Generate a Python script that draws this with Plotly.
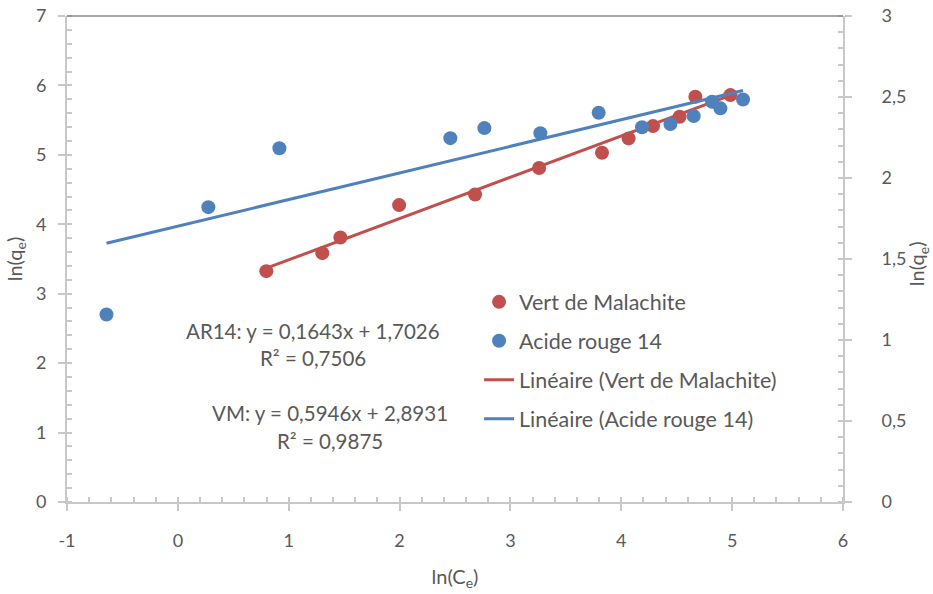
import plotly.graph_objects as go

# Vert de Malachite (left axis)
vm_x = [0.798, 1.303, 1.466, 1.996, 2.681, 3.259, 3.826, 4.066, 4.286, 4.526, 4.668, 4.984]
vm_y = [3.325, 3.584, 3.810, 4.276, 4.430, 4.810, 5.030, 5.237, 5.414, 5.548, 5.837, 5.861]

# Acide rouge 14 (right axis)
ar_x = [-0.644, 0.275, 0.916, 2.458, 2.765, 3.270, 3.796, 4.187, 4.443, 4.653, 4.819, 4.894, 5.098]
ar_y = [1.157, 1.820, 2.184, 2.246, 2.308, 2.277, 2.403, 2.313, 2.333, 2.382, 2.471, 2.430, 2.485]

# Trendline coefficients (slope, intercept)
vm_fit = (0.5946, 2.8931)
ar_fit = (0.1643, 1.7026)

# tick labels
x_ticks = [-1, 0, 1, 2, 3, 4, 5, 6]
x_labels = ["-1", "0", "1", "2", "3", "4", "5", "6"]

RED = "#C0504D"
BLUE = "#4F81BD"
TXT = "#595959"
AX = "#C8C8C8"
FONT = "Lato"

fig = go.Figure()

vm_lx = [min(vm_x), max(vm_x)]
ar_lx = [min(ar_x), max(ar_x)]
fig.add_trace(go.Scatter(x=vm_lx, y=[vm_fit[0] * v + vm_fit[1] for v in vm_lx], mode="lines",
                         name="Linéaire (Vert de Malachite)", line=dict(color=RED, width=3),
                         legendgroup="c", legendrank=3, yaxis="y"))
fig.add_trace(go.Scatter(x=ar_lx, y=[ar_fit[0] * v + ar_fit[1] for v in ar_lx], mode="lines",
                         name="Linéaire (Acide rouge 14)", line=dict(color=BLUE, width=3),
                         legendgroup="d", legendrank=4, yaxis="y2"))
fig.add_trace(go.Scatter(x=vm_x, y=vm_y, mode="markers", name="Vert de Malachite",
                         marker=dict(color=RED, size=14), legendgroup="a", legendrank=1, yaxis="y"))
fig.add_trace(go.Scatter(x=ar_x, y=ar_y, mode="markers", name="Acide rouge 14",
                         marker=dict(color=BLUE, size=14), legendgroup="b", legendrank=2, yaxis="y2"))

axis_common = dict(showgrid=False, zeroline=False, showline=True, linecolor=AX, linewidth=2,
                   ticks="outside", ticklen=7, tickcolor=AX, tickwidth=1.5, automargin=False,
                   tickfont=dict(family=FONT, size=18, color=TXT))

fig.update_layout(
    width=933, height=594,
    margin=dict(l=67, r=90, t=16, b=92),
    paper_bgcolor="white", plot_bgcolor="white",
    separators=", ",
    font=dict(family=FONT, color=TXT),
    xaxis=dict(range=[-1, 6], tickvals=x_ticks, ticktext=x_labels,
               title=dict(text="ln(C<sub>e</sub>)", font=dict(family=FONT, size=20, color=TXT), standoff=20),
               minor=dict(dtick=0.2, tick0=0, ticks="inside", ticklen=5, tickcolor=AX, tickwidth=1.5, showgrid=False),
               ticklabelstandoff=14, **axis_common),
    yaxis=dict(range=[0, 7], dtick=1,
               title=dict(text="ln(q<sub>e</sub>)", font=dict(family=FONT, size=20, color=TXT), standoff=8),
               minor=dict(dtick=0.2, ticks="inside", ticklen=5, tickcolor=AX, tickwidth=1.5, showgrid=False),
               ticklabelstandoff=8, **axis_common),
    yaxis2=dict(range=[0, 3], dtick=0.5, overlaying="y", side="right",
                minor=dict(dtick=0.1, ticks="inside", ticklen=5, tickcolor=AX, tickwidth=1.5, showgrid=False),
                ticklabelstandoff=26, **axis_common),
    legend=dict(x=0.531, y=0.454, xanchor="left", yanchor="top", bgcolor="rgba(0,0,0,0)",
                font=dict(family=FONT, size=21.5, color=TXT), tracegroupgap=8,
                traceorder="grouped"),
    showlegend=True,
)

# right axis title
fig.add_annotation(x=1.097, y=0.49, xref="paper", yref="paper", showarrow=False,
                   xanchor="center", yanchor="middle",
                   text="ln(q<sub>e</sub>)", textangle=-90,
                   font=dict(family=FONT, size=20, color=TXT))

# top border
fig.add_shape(type="line", xref="paper", yref="paper", x0=0, x1=1, y0=1, y1=1,
              line=dict(color="#898989", width=1.5))

ann_font = dict(family=FONT, size=20.5, color=TXT)
fig.add_annotation(x=1.222, y=2.46, xref="x", yref="y", showarrow=False,
                   text="AR14: y = 0,1643x + 1,7026", font=ann_font)
fig.add_annotation(x=1.222, y=2.08, xref="x", yref="y", showarrow=False,
                   text="R² = 0,7506", font=ann_font)
fig.add_annotation(x=1.375, y=1.277, xref="x", yref="y", showarrow=False,
                   text="VM: y = 0,5946x + 2,8931", font=ann_font)
fig.add_annotation(x=1.375, y=0.874, xref="x", yref="y", showarrow=False,
                   text="R² = 0,9875", font=ann_font)

fig.write_html("out.html")
